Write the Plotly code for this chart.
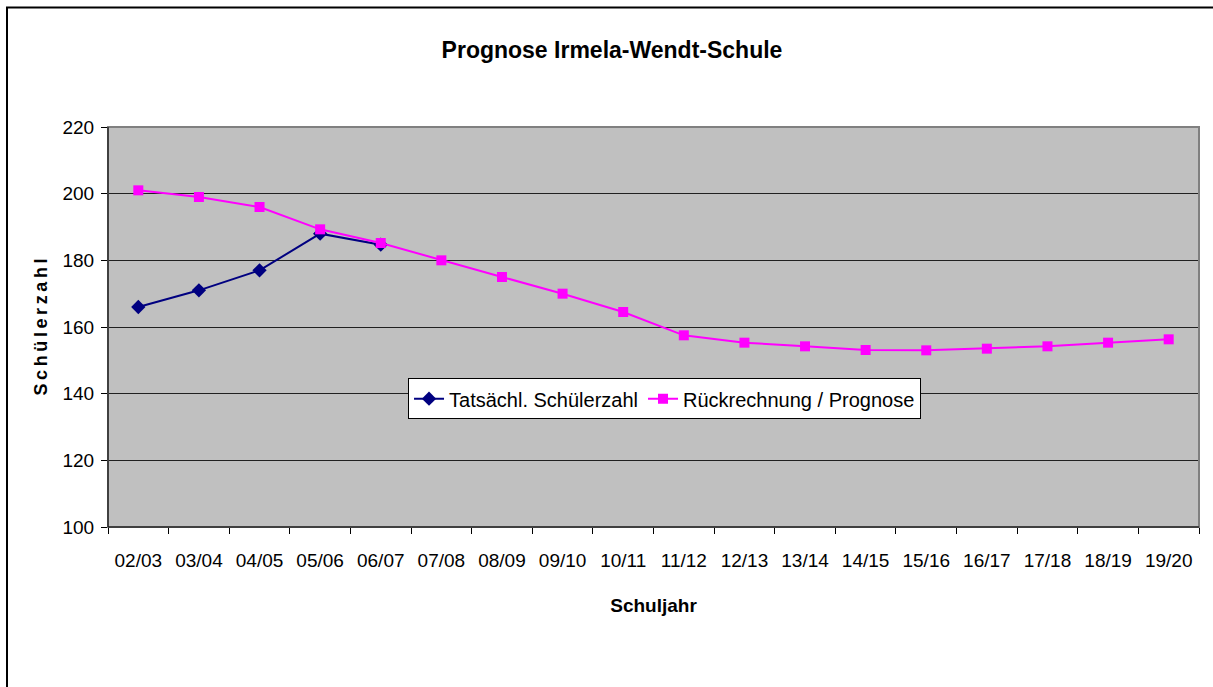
import plotly.graph_objects as go

categories = ["02/03", "03/04", "04/05", "05/06", "06/07", "07/08", "08/09", "09/10", "10/11",
              "11/12", "12/13", "13/14", "14/15", "15/16", "16/17", "17/18", "18/19", "19/20"]
actual = [166, 171, 177, 188, 184.7]
forecast = [201, 199, 196, 189.3, 185.2, 180, 175, 170, 164.5, 157.5, 155.3, 154.2, 153.1,
            153, 153.5, 154.2, 155.3, 156.3]

fig = go.Figure()
fig.add_trace(go.Scatter(
    x=categories[:len(actual)], y=actual, name="Tatsächl. Schülerzahl",
    mode="lines+markers", line=dict(color="#000080", width=2),
    marker=dict(symbol="diamond", size=11, color="#000080")))
fig.add_trace(go.Scatter(
    x=categories, y=forecast, name="Rückrechnung / Prognose",
    mode="lines+markers", line=dict(color="#FF00FF", width=2),
    marker=dict(symbol="square", size=10, color="#FF00FF")))

font_family = "Liberation Sans, Arial, sans-serif"
ytitle = "\u2009".join("Schülerzahl")
fig.update_layout(
    width=1213, height=687,
    margin=dict(l=108, r=14, t=127, b=160),
    paper_bgcolor="white", plot_bgcolor="#C0C0C0",
    font=dict(family=font_family, size=19, color="black"),
    title=dict(text="<b>Prognose Irmela-Wendt-Schule</b>", x=612 / 1213, xanchor="center",
               y=1 - 50 / 687, yanchor="middle", font=dict(size=23, family=font_family)),
    showlegend=True,
    legend=dict(x=0.275, y=0.372, xanchor="left", yanchor="top", orientation="h",
                bgcolor="white", bordercolor="black", borderwidth=1,
                font=dict(size=20), tracegroupgap=0),
    xaxis=dict(type="category", categoryorder="array", categoryarray=categories,
               tickson="boundaries", ticks="outside", ticklen=6, tickcolor="black",
               showline=True, linecolor="black", linewidth=1, mirror=False,
               showgrid=False, range=[-0.5, len(categories) - 0.5],
               ticklabelstandoff=16,
               title=dict(text="<b>Schuljahr</b>", font=dict(size=19), standoff=28),
               tickfont=dict(size=19)),
    yaxis=dict(range=[100, 220], dtick=20, tick0=100, ticks="outside", ticklen=6,
               tickcolor="black", showline=True, linecolor="black", linewidth=1,
               showgrid=True, gridcolor="#202020", gridwidth=1, zeroline=False,
               ticklabelstandoff=3,
               title=dict(text="<b>" + ytitle + "</b>", font=dict(size=18), standoff=10),
               tickfont=dict(size=19)),
    shapes=[
        dict(type="rect", xref="paper", yref="paper", x0=0, x1=1, y0=0, y1=1,
             line=dict(color="#808080", width=2), layer="above"),
        dict(type="line", xref="paper", yref="paper", x0=0, x1=0, y0=0, y1=1,
             line=dict(color="black", width=1), layer="above"),
        dict(type="line", xref="paper", yref="paper", x0=0, x1=1, y0=0, y1=0,
             line=dict(color="black", width=1), layer="above"),
        dict(type="rect", xref="paper", yref="paper",
             x0=(7 - 108) / 1091, x1=(1225 - 108) / 1091,
             y0=(527 - 700) / 400, y1=(527 - 7.5) / 400,
             line=dict(color="black", width=2), layer="above"),
    ],
)

fig.write_html("out.html", config={"displayModeBar": False},
               post_script="document.body.style.margin='0';document.body.style.overflow='hidden';")
